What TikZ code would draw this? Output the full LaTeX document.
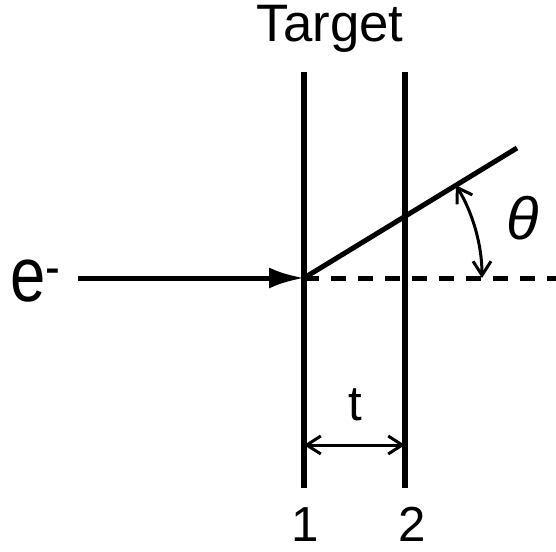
\documentclass[tikz,border=0pt]{standalone}
\usepackage{fontspec}
\setmainfont{Liberation Sans}
\usepackage{tikz}
\usetikzlibrary{arrows.meta,positioning,calc}

\begin{document}
\begin{tikzpicture}[
    foil/.style={line width=1.3mm},
    beam/.style={line width=1mm},
    arr/.style={-{Latex[length=0.7cm,width=0.42cm]}, beam},
    dimarr/.style={{Straight Barb[length=0.28cm,width=0.36cm]}-{Straight Barb[length=0.28cm,width=0.36cm]},
                   line width=0.6mm},
    lbl/.style={font=\fontsize{28}{30}\selectfont, inner sep=0pt}
  ]
    \useasboundingbox (0,0) rectangle (11.12,11.02);
    % target foils
    \coordinate (f1top) at (6.08,9.58);
    \coordinate (f1bot) at (6.08,1.26);
    \coordinate (f2top) at (8.10,9.58);
    \coordinate (f2bot) at (8.10,1.26);
    \draw[foil] (f1top)--(f1bot);
    \draw[foil] (f2top)--(f2bot);
    \node[lbl, font=\fontsize{30}{32}\selectfont] (target) at (6.6,10.44) {Target};
    \node[lbl] (n1) at (6.1,0.53) {1};
    \node[lbl] (n2) at (8.24,0.53) {2};
    % beam
    \coordinate (src) at (1.56,5.46);
    \coordinate (hit) at (6.08,5.46);
    \coordinate (fwd) at (11.12,5.46);
    \coordinate (out) at (10.34,8.06);
    \node[lbl, font=\fontsize{44}{46}\selectfont] (elec) at (0.72,5.4) {\scalebox{0.82}[1]{e\textsuperscript{-}}};
    \draw[arr] (src)--(hit);
    \draw[beam, dash pattern=on 0.3cm off 0.24cm] (hit)--(fwd);
    \draw[beam] (hit)--(out);
    % angle and thickness
    \draw[dimarr] ([shift={(31.4:3.56)}]hit) arc[start angle=31.4, end angle=0, radius=3.56];
    \node[lbl, font=\fontsize{34}{36}\selectfont\itshape] (theta) at (10.46,6.66) {θ};
    \coordinate (t1) at (6.08,2.12);
    \coordinate (t2) at (8.10,2.12);
    \draw[dimarr] (t1)--(t2);
    \node[lbl] (tlbl) at (7.1,2.92) {t};
\end{tikzpicture}
\end{document}
